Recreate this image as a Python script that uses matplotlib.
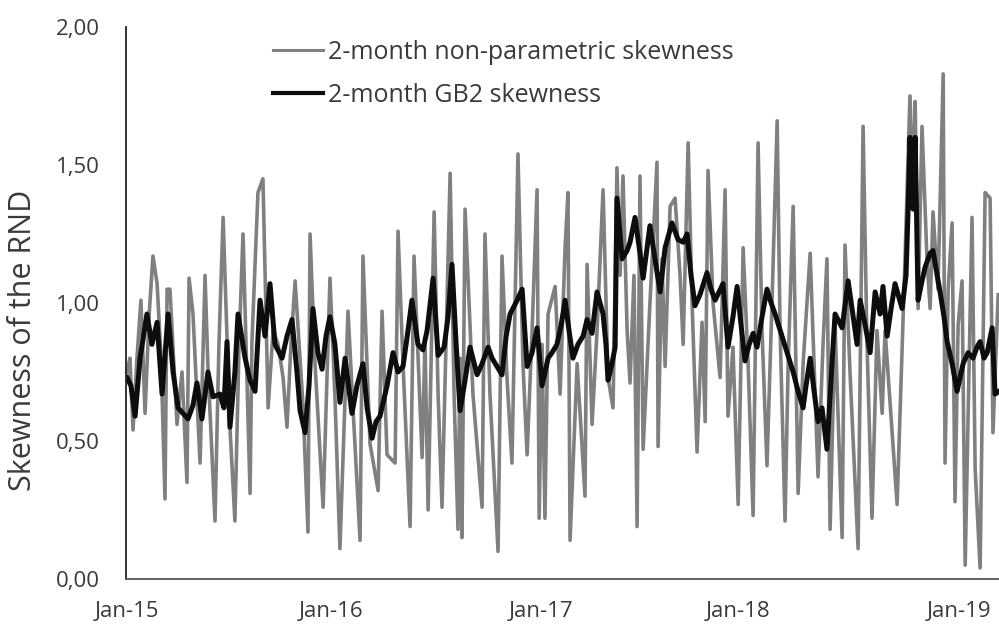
import numpy as np
import matplotlib
matplotlib.use("Agg")
import matplotlib.pyplot as plt

# years since Jan-2015
gray_t = [0.000, 0.014, 0.029, 0.048, 0.067, 0.087, 0.106, 0.125, 0.145, 0.164,
          0.183, 0.193, 0.207, 0.241, 0.265, 0.289, 0.299, 0.318, 0.352, 0.376,
          0.390, 0.424, 0.443, 0.463, 0.496, 0.520, 0.540, 0.559, 0.593, 0.602,
          0.631, 0.655, 0.680, 0.704, 0.728, 0.752, 0.771, 0.790, 0.810, 0.848,
          0.872, 0.882, 0.906, 0.945, 0.978, 1.002, 1.026, 1.065, 1.089, 1.123,
          1.137, 1.171, 1.210, 1.229, 1.253, 1.292, 1.306, 1.330, 1.364, 1.383,
          1.422, 1.436, 1.451, 1.480, 1.499, 1.518, 1.557, 1.576, 1.595, 1.605,
          1.614, 1.629, 1.667, 1.711, 1.725, 1.749, 1.788, 1.807, 1.831, 1.855,
          1.884, 1.908, 1.928, 1.952, 1.976, 1.986, 2.000, 2.014, 2.029, 2.063,
          2.087, 2.111, 2.125, 2.135, 2.169, 2.207, 2.217, 2.241, 2.265, 2.294,
          2.318, 2.342, 2.361, 2.376, 2.390, 2.410, 2.424, 2.443, 2.458, 2.472,
          2.487, 2.520, 2.554, 2.559, 2.578, 2.593, 2.617, 2.641, 2.665, 2.680,
          2.704, 2.723, 2.747, 2.771, 2.786, 2.800, 2.824, 2.858, 2.882, 2.896,
          2.920, 2.945, 2.969, 2.993, 3.017, 3.041, 3.060, 3.084, 3.108, 3.133,
          3.147, 3.171, 3.186, 3.210, 3.234, 3.258, 3.292, 3.330, 3.354, 3.373,
          3.388, 3.412, 3.446, 3.460, 3.484, 3.523, 3.547, 3.566, 3.590, 3.614,
          3.639, 3.653, 3.711, 3.749, 3.773, 3.788, 3.798, 3.812, 3.831, 3.855,
          3.870, 3.884, 3.908, 3.933, 3.942, 3.957, 3.976, 3.990, 4.005, 4.024,
          4.039, 4.072, 4.087, 4.111, 4.135, 4.159, 4.173, 4.198]
gray_v = [0.75, 0.80, 0.54, 0.80, 1.01, 0.60, 0.95, 1.17, 1.07, 0.80,
          0.29, 1.05, 1.05, 0.56, 0.75, 0.35, 1.09, 0.96, 0.42, 1.10,
          0.77, 0.21, 0.85, 1.31, 0.55, 0.21, 0.85, 1.25, 0.31, 0.86,
          1.40, 1.45, 0.62, 0.90, 0.85, 0.73, 0.55, 0.85, 1.08, 0.63,
          0.17, 1.25, 0.78, 0.26, 1.09, 0.66, 0.11, 0.97, 0.62, 0.14,
          1.17, 0.49, 0.32, 0.97, 0.45, 0.42, 1.26, 0.78, 0.19, 1.17,
          0.44, 0.86, 0.25, 1.33, 0.67, 0.26, 1.47, 0.67, 0.18, 0.80,
          0.15, 1.34, 0.67, 0.26, 1.25, 0.67, 0.10, 1.17, 0.73, 0.42,
          1.54, 0.78, 0.45, 0.90, 1.41, 0.22, 0.85, 0.22, 0.96, 1.06,
          0.67, 1.20, 1.40, 0.14, 0.78, 0.30, 1.14, 0.56, 0.90, 1.41,
          0.73, 0.62, 1.49, 1.10, 1.46, 0.90, 0.71, 1.10, 0.19, 1.46,
          0.47, 1.00, 1.51, 0.48, 1.16, 0.77, 1.35, 1.38, 1.10, 0.85,
          1.58, 1.00, 0.46, 0.93, 0.57, 1.48, 1.00, 0.73, 1.41, 0.59,
          0.84, 0.27, 1.20, 0.78, 0.23, 1.58, 0.90, 0.41, 1.00, 1.66,
          0.90, 0.21, 0.78, 1.35, 0.31, 0.78, 1.18, 0.37, 0.85, 1.16,
          0.18, 0.92, 0.15, 1.21, 0.75, 0.11, 1.64, 0.85, 0.22, 0.90,
          0.60, 0.90, 0.27, 1.16, 1.75, 1.40, 1.73, 0.98, 1.64, 1.16,
          0.98, 1.33, 1.05, 1.83, 0.42, 1.05, 1.29, 0.28, 0.92, 1.08,
          0.05, 1.31, 0.40, 0.04, 1.40, 1.38, 0.53, 1.03]

gb2_t = [0.000, 0.019, 0.039, 0.063, 0.096, 0.120, 0.145, 0.169, 0.198, 0.222,
         0.246, 0.270, 0.294, 0.318, 0.337, 0.361, 0.390, 0.414, 0.448, 0.467,
         0.482, 0.496, 0.520, 0.535, 0.569, 0.593, 0.617, 0.641, 0.665, 0.689,
         0.713, 0.747, 0.771, 0.795, 0.819, 0.834, 0.858, 0.877, 0.896, 0.920,
         0.940, 0.959, 0.978, 1.002, 1.026, 1.051, 1.084, 1.108, 1.137, 1.157,
         1.181, 1.200, 1.219, 1.253, 1.282, 1.306, 1.330, 1.354, 1.373, 1.402,
         1.426, 1.446, 1.475, 1.499, 1.528, 1.547, 1.566, 1.586, 1.605, 1.629,
         1.653, 1.687, 1.711, 1.740, 1.759, 1.783, 1.807, 1.827, 1.846, 1.880,
         1.904, 1.928, 1.952, 1.976, 2.000, 2.029, 2.048, 2.072, 2.092, 2.111,
         2.130, 2.149, 2.173, 2.198, 2.217, 2.241, 2.265, 2.294, 2.308, 2.318,
         2.337, 2.352, 2.361, 2.376, 2.386, 2.410, 2.424, 2.448, 2.472, 2.487,
         2.506, 2.520, 2.544, 2.569, 2.593, 2.626, 2.655, 2.680, 2.699, 2.718,
         2.737, 2.761, 2.795, 2.814, 2.834, 2.853, 2.872, 2.896, 2.920, 2.940,
         2.959, 2.978, 2.998, 3.017, 3.036, 3.060, 3.084, 3.104, 3.123, 3.152,
         3.181, 3.210, 3.234, 3.258, 3.272, 3.292, 3.311, 3.330, 3.349, 3.373,
         3.398, 3.412, 3.446, 3.475, 3.499, 3.518, 3.533, 3.557, 3.581, 3.605,
         3.629, 3.643, 3.663, 3.682, 3.701, 3.735, 3.754, 3.764, 3.773, 3.783,
         3.788, 3.798, 3.812, 3.831, 3.846, 3.870, 3.884, 3.904, 3.918, 3.937,
         3.952, 3.976, 4.000, 4.029, 4.053, 4.077, 4.096, 4.111, 4.130, 4.145,
         4.169, 4.183, 4.202]
gb2_v = [0.73, 0.70, 0.59, 0.80, 0.96, 0.85, 0.93, 0.67, 0.96, 0.75,
         0.62, 0.60, 0.58, 0.63, 0.71, 0.58, 0.75, 0.66, 0.67, 0.62,
         0.86, 0.55, 0.75, 0.96, 0.80, 0.72, 0.68, 1.01, 0.88, 1.07,
         0.85, 0.80, 0.88, 0.94, 0.75, 0.61, 0.53, 0.70, 0.98, 0.82,
         0.76, 0.88, 0.95, 0.85, 0.64, 0.80, 0.60, 0.70, 0.78, 0.62,
         0.51, 0.57, 0.59, 0.70, 0.82, 0.75, 0.77, 0.90, 1.01, 0.85,
         0.83, 0.90, 1.09, 0.81, 0.84, 0.95, 1.14, 0.85, 0.61, 0.72,
         0.84, 0.74, 0.78, 0.84, 0.80, 0.77, 0.74, 0.88, 0.96, 1.01,
         1.05, 0.77, 0.82, 0.91, 0.70, 0.80, 0.82, 0.85, 0.92, 1.01,
         0.90, 0.80, 0.85, 0.88, 0.94, 0.89, 1.04, 0.96, 0.85, 0.72,
         0.78, 0.84, 1.38, 1.25, 1.16, 1.19, 1.22, 1.31, 1.18, 1.09,
         1.20, 1.28, 1.16, 1.04, 1.20, 1.29, 1.23, 1.22, 1.25, 1.10,
         0.99, 1.03, 1.11, 1.05, 1.01, 1.04, 1.07, 0.84, 0.95, 1.06,
         0.92, 0.79, 0.85, 0.89, 0.84, 0.95, 1.05, 1.00, 0.96, 0.89,
         0.82, 0.75, 0.68, 0.62, 0.70, 0.80, 0.68, 0.57, 0.62, 0.47,
         0.79, 0.96, 0.91, 1.08, 0.95, 0.85, 1.01, 0.92, 0.82, 1.04,
         0.96, 1.06, 0.88, 0.98, 1.07, 0.98, 1.10, 1.34, 1.60, 1.40,
         1.34, 1.60, 1.01, 1.08, 1.13, 1.18, 1.19, 1.10, 1.04, 0.95,
         0.86, 0.78, 0.68, 0.78, 0.82, 0.80, 0.84, 0.86, 0.80, 0.82,
         0.91, 0.67, 0.68]

tick_pos = [0.0, 0.983, 1.995, 2.945, 4.010]
tick_labels = ["Jan-15", "Jan-16", "Jan-17", "Jan-18", "Jan-19"]
y_ticks = [0.0, 0.5, 1.0, 1.5, 2.0]

plt.rcParams['font.family'] = ['Open Sans', 'DejaVu Sans']
txt = '#3a3a3a'

fig = plt.figure(figsize=(9.99, 6.32), dpi=100)
ax = fig.add_axes([0.1261, 0.0839, 0.8739, 0.8734])

ax.plot(gray_t, gray_v, color='#808080', lw=2.6,
        label='2-month non-parametric skewness')
ax.plot(gb2_t, gb2_v, color='#0d0d0d', lw=3.6,
        label='2-month GB2 skewness')

ax.set_xlim(-0.005, 4.202)
ax.set_ylim(0, 2)
ax.set_xticks(tick_pos)
ax.set_xticklabels(tick_labels)
ax.set_yticks(y_ticks)
ax.set_yticklabels(["{:.2f}".format(v).replace('.', ',') for v in y_ticks])
ax.tick_params(axis='both', length=0, labelsize=16, colors=txt)
ax.tick_params(axis='y', pad=19)
ax.tick_params(axis='x', pad=16)

for s in ['top', 'right']:
    ax.spines[s].set_visible(False)
ax.spines['left'].set_color('#222222')
ax.spines['left'].set_linewidth(1.3)
ax.spines['bottom'].set_color('#555555')
ax.spines['bottom'].set_linewidth(1.3)

ax.set_ylabel('Skewness of the RND', fontsize=22, color=txt)
ax.yaxis.label.set_va('center')
ax.yaxis.set_label_coords(-0.118, 0.433)

leg = ax.legend(loc='upper left', bbox_to_anchor=(0.2733, 0.937),
                bbox_transform=fig.transFigure, frameon=False, fontsize=18,
                handlelength=2.0, handletextpad=0.2, labelspacing=0.72,
                borderpad=0, borderaxespad=0, labelcolor=txt)
leg.get_lines()[0].set_linewidth(2.2)
leg.get_lines()[1].set_linewidth(3.0)

fig.savefig('out.png', dpi=100)
